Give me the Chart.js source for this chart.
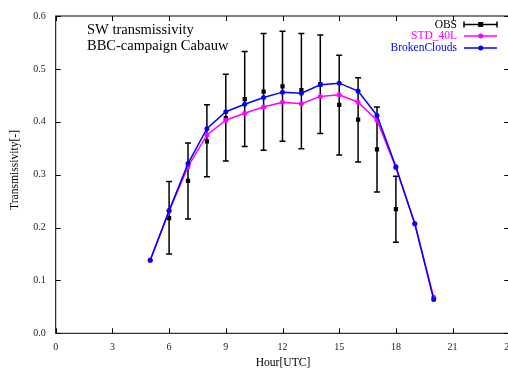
<!DOCTYPE html>
<html><head><meta charset="utf-8">
<script src="https://cdn.jsdelivr.net/npm/chart.js@4/dist/chart.umd.min.js"></script>
<style>
html,body{margin:0;padding:0;overflow:hidden;background:#fff;width:508px;height:369px}
#wrap{position:relative;width:530px;height:369px}
</style>
</head><body><div id="wrap"><canvas id="c" width="530" height="369"></canvas></div>
<script>
// Hourly model output (hour UTC)
const modelHours = [5,6,7,8,9,10,11,12,13,14,15,16,17,18,19,20];
const std40L =       [0.138,0.231,0.315,0.375,0.403,0.416,0.428,0.437,0.434,0.448,0.451,0.437,0.403,0.313,0.207,0.068];
const brokenClouds = [0.138,0.232,0.321,0.387,0.419,0.433,0.446,0.456,0.454,0.470,0.473,0.458,0.412,0.315,0.207,0.064];

// Observations: mean with lower/upper bounds of the error bars
const obsHours = [6,7,8,9,10,11,12,13,14,15,16,17,18];
const obsMean = [0.218,0.288,0.363,0.407,0.443,0.457,0.467,0.460,0.471,0.432,0.404,0.348,0.235];
const obsLow  = [0.150,0.216,0.296,0.326,0.353,0.346,0.363,0.349,0.378,0.337,0.324,0.267,0.172];
const obsHigh = [0.287,0.360,0.432,0.490,0.533,0.567,0.571,0.567,0.564,0.526,0.483,0.428,0.297];

const xTicks = [0,3,6,9,12,15,18,21,24];
const yTicks = [0,0.1,0.2,0.3,0.4,0.5,0.6];

const SERIF = '"Liberation Serif","DejaVu Serif",serif';

const pts = (xs, ys) => xs.map((x, i) => ({x, y: ys[i]}));

// Vertical error bars for the observations, drawn behind the lines
const errorBars = {
  id: 'errorBars',
  beforeDatasetsDraw(chart) {
    const {ctx, scales: {x, y}} = chart;
    ctx.save();
    ctx.strokeStyle = '#000';
    ctx.lineWidth = 1.5;
    obsHours.forEach((h, i) => {
      const px = x.getPixelForValue(h);
      const y1 = y.getPixelForValue(obsLow[i]);
      const y2 = y.getPixelForValue(obsHigh[i]);
      ctx.beginPath();
      ctx.moveTo(px, y1); ctx.lineTo(px, y2);
      ctx.moveTo(px - 3, y1); ctx.lineTo(px + 3, y1);
      ctx.moveTo(px - 3, y2); ctx.lineTo(px + 3, y2);
      ctx.stroke();
    });
    ctx.restore();
  }
};

// Frame, inward ticks, axis titles, title text and key
const decorations = {
  id: 'decorations',
  afterDraw(chart) {
    const {ctx, chartArea: a, scales: {x, y}} = chart;
    ctx.save();
    ctx.strokeStyle = '#000';
    ctx.lineWidth = 1;
    ctx.strokeRect(a.left, a.top, a.right - a.left, a.bottom - a.top);
    const tl = 5;
    ctx.beginPath();
    xTicks.forEach(v => {
      const px = Math.round(x.getPixelForValue(v)) + 0.5;
      ctx.moveTo(px, a.bottom); ctx.lineTo(px, a.bottom - tl);
      ctx.moveTo(px, a.top); ctx.lineTo(px, a.top + tl);
    });
    yTicks.forEach(v => {
      const py = Math.round(y.getPixelForValue(v)) + 0.5;
      ctx.moveTo(a.left, py); ctx.lineTo(a.left + tl, py);
      ctx.moveTo(a.right, py); ctx.lineTo(a.right - tl, py);
    });
    ctx.stroke();

    // axis titles
    ctx.fillStyle = '#000';
    ctx.font = '11.6px ' + SERIF;
    ctx.textAlign = 'center';
    ctx.textBaseline = 'middle';
    ctx.fillText('Hour[UTC]', 283, 363);
    ctx.save();
    ctx.translate(15, 170);
    ctx.rotate(-Math.PI / 2);
    ctx.fillText('Transmissivity[-]', 0, 0);
    ctx.restore();

    // title text
    ctx.font = '14.5px ' + SERIF;
    ctx.textAlign = 'left';
    ctx.fillText('SW transmissivity', 87, 30);
    ctx.fillText('BBC-campaign Cabauw', 87, 46);

    // key
    ctx.font = '11.5px ' + SERIF;
    ctx.textAlign = 'right';
    const kx = 457, l0 = 464, l1 = 497, lm = 480.7;
    const rows = [
      {label: 'OBS', color: '#000', y: 24.5, type: 'err'},
      {label: 'STD_40L', color: '#ff00ff', y: 36, type: 'line'},
      {label: 'BrokenClouds', color: '#0000ff', y: 48, type: 'line'}
    ];
    rows.forEach(r => {
      ctx.fillStyle = r.color;
      ctx.fillText(r.label, kx, r.y);
      ctx.strokeStyle = r.color;
      ctx.lineWidth = 1.5;
      ctx.beginPath();
      ctx.moveTo(l0, r.y); ctx.lineTo(l1, r.y);
      if (r.type === 'err') {
        ctx.moveTo(l0, r.y - 3); ctx.lineTo(l0, r.y + 3);
        ctx.moveTo(l1, r.y - 3); ctx.lineTo(l1, r.y + 3);
      }
      ctx.stroke();
      if (r.type === 'err') {
        ctx.fillRect(lm - 2.5, r.y - 2.5, 5, 5);
      } else {
        ctx.beginPath();
        ctx.arc(lm, r.y, 2.5, 0, Math.PI * 2);
        ctx.fill();
      }
    });
    ctx.restore();
  }
};

new Chart(document.getElementById('c'), {
  type: 'line',
  data: {
    datasets: [
      {
        label: 'OBS', data: pts(obsHours, obsMean), showLine: false,
        pointStyle: 'rect', pointRadius: 3, pointBackgroundColor: '#000',
        pointBorderColor: '#000', borderWidth: 0, order: 2
      },
      {
        label: 'STD_40L', data: pts(modelHours, std40L), borderColor: '#ff00ff',
        backgroundColor: '#ff00ff', borderWidth: 1.5, pointRadius: 2.5,
        pointBorderWidth: 0, pointBackgroundColor: '#ff00ff', tension: 0, order: 1
      },
      {
        label: 'BrokenClouds', data: pts(modelHours, brokenClouds), borderColor: '#0000ff',
        backgroundColor: '#0000ff', borderWidth: 1.5, pointRadius: 2.5,
        pointBorderWidth: 0, pointBackgroundColor: '#0000ff', tension: 0, order: 0
      }
    ]
  },
  options: {
    responsive: false,
    devicePixelRatio: 1,
    animation: false,
    layout: {padding: {top: 14.7, right: 20.7, left: 0, bottom: 0}},
    plugins: {legend: {display: false}, tooltip: {enabled: false}},
    scales: {
      x: {
        type: 'linear', min: 0, max: 24,
        afterFit(s) { s.height = 35.7; },
        afterBuildTicks(s) { s.ticks = xTicks.map(v => ({value: v})); },
        grid: {display: false, drawTicks: false},
        border: {display: false},
        ticks: {color: '#222', font: {family: SERIF, size: 10}, padding: 8, maxRotation: 0, autoSkip: false}
      },
      y: {
        type: 'linear', min: 0, max: 0.6,
        afterFit(s) { s.width = 55.7; },
        afterBuildTicks(s) { s.ticks = yTicks.map(v => ({value: v})); },
        grid: {display: false, drawTicks: false},
        border: {display: false},
        ticks: {color: '#222', font: {family: SERIF, size: 10}, padding: 10,
          callback: v => Number(v).toFixed(1)}
      }
    }
  },
  plugins: [errorBars, decorations]
});
</script>
</body></html>
